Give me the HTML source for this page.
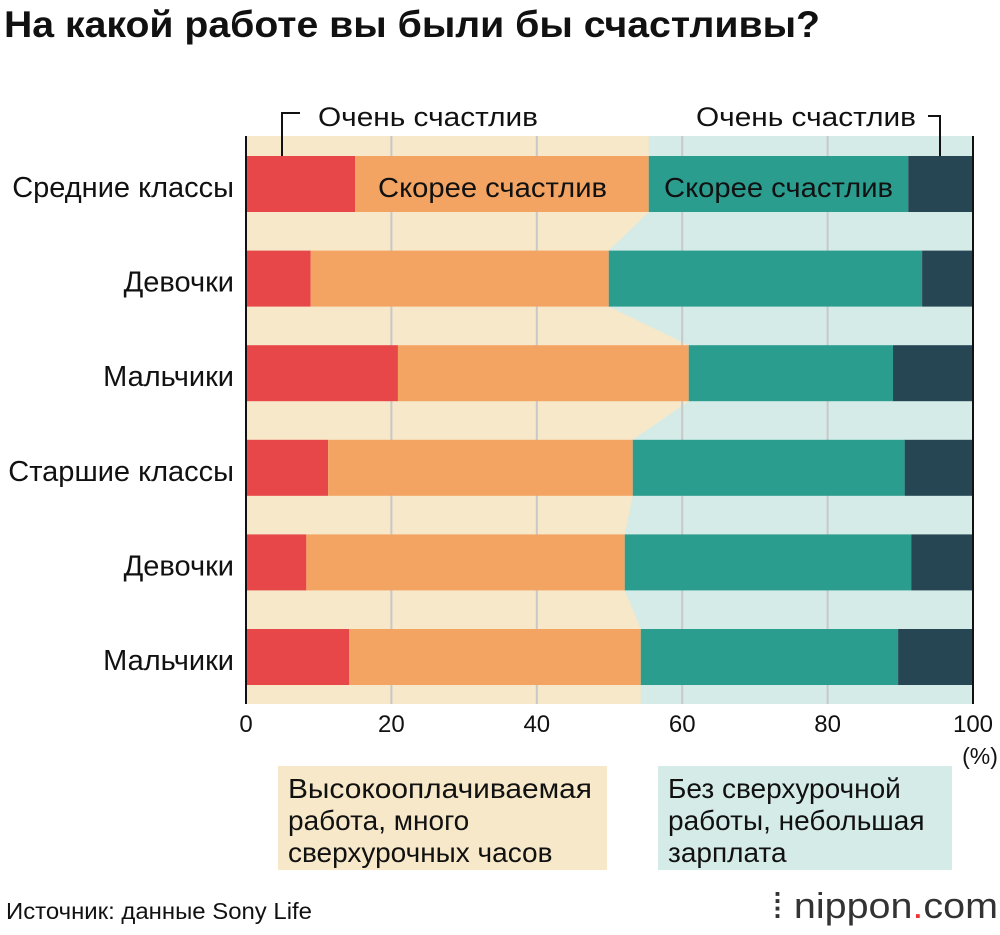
<!DOCTYPE html>
<html><head><meta charset="utf-8"><style>
body{margin:0;background:#fff;width:1000px;height:930px;overflow:hidden;font-family:"Liberation Sans","DejaVu Sans",sans-serif}
svg text{font-family:"Liberation Sans","DejaVu Sans",sans-serif}
</style></head><body>
<svg id="chart" width="1000" height="930">
<text x="4" y="37" font-size="37" font-weight="bold" fill="#111" textLength="816" lengthAdjust="spacingAndGlyphs">На какой работе вы были бы счастливы?</text>
<g id="bg"></g><g id="grid"></g><g id="bars"></g><g id="labels"></g>
<line x1="246" y1="136" x2="246" y2="704" stroke="#111" stroke-width="2"/>
<line x1="973" y1="136" x2="973" y2="704" stroke="#111" stroke-width="2"/>
<path d="M282 156 V113 H300" fill="none" stroke="#111" stroke-width="2"/>
<text x="318" y="126" font-size="27" fill="#111" textLength="220" lengthAdjust="spacingAndGlyphs">Очень счастлив</text>
<path d="M928 116 H940 V156" fill="none" stroke="#111" stroke-width="2"/>
<text x="696" y="126" font-size="27" fill="#111" textLength="220" lengthAdjust="spacingAndGlyphs">Очень счастлив</text>
<text x="378" y="197" font-size="28" fill="#111" textLength="229" lengthAdjust="spacingAndGlyphs">Скорее счастлив</text>
<text x="664" y="197" font-size="28" fill="#111" textLength="229" lengthAdjust="spacingAndGlyphs">Скорее счастлив</text>
<text x="980" y="764" font-size="23" fill="#111" text-anchor="middle">(%)</text>
<rect x="278" y="766" width="329" height="104" fill="#f6e8c9"/>
<text font-size="28" fill="#111"><tspan x="288" y="798" textLength="304" lengthAdjust="spacingAndGlyphs">Высокооплачиваемая</tspan><tspan x="288" y="830">работа, много</tspan><tspan x="288" y="862">сверхурочных часов</tspan></text>
<rect x="658" y="766" width="294" height="104" fill="#d5ebe7"/>
<text font-size="28" fill="#111"><tspan x="668" y="798">Без сверхурочной</tspan><tspan x="668" y="830">работы, небольшая</tspan><tspan x="668" y="862">зарплата</tspan></text>
<text x="6" y="919" font-size="23" fill="#111" textLength="306" lengthAdjust="spacingAndGlyphs">Источник: данные Sony Life</text>
<text x="772" y="918" font-size="36" fill="#333" textLength="226" lengthAdjust="spacingAndGlyphs">⁞ nippon<tspan fill="#e33">.</tspan>com</text>
</svg>
<script>
const categories=["Средние классы","Девочки","Мальчики","Старшие классы","Девочки","Мальчики"];
const veryHappyL=[15.0,8.9,20.9,11.3,8.3,14.2];
const ratherHappyL=[40.4,41.0,40.0,41.9,43.8,40.1];
const ratherHappyR=[35.7,43.1,28.1,37.4,39.4,35.4];
const veryHappyR=[8.9,7.0,11.0,9.4,8.5,10.3];
const ticks=[0,20,40,60,80,100];
const NS="http://www.w3.org/2000/svg";
const x0=246,x1=973,yTop=136,yBot=704,rowY0=156,rowStep=94.6,bh=56;
const X=v=>x0+(x1-x0)*v/100;
const Y=i=>rowY0+i*rowStep;
function mk(t,a,p){const e=document.createElementNS(NS,t);for(const k in a)e.setAttribute(k,a[k]);document.getElementById(p).appendChild(e);return e;}
const bnd=categories.map((c,i)=>X(veryHappyL[i]+ratherHappyL[i]));
let pts=[[bnd[0],yTop]];
categories.forEach((c,i)=>{pts.push([bnd[i],Y(i)]);pts.push([bnd[i],Y(i)+bh]);});
pts.push([bnd[bnd.length-1],yBot]);
let r=mk('rect',{x:x0,y:yTop,width:x1-x0,height:yBot-yTop,fill:'#d5ebe7'},'bg');


let poly=mk('polygon',{points:[[x0,yTop],...pts,[x0,yBot]].map(p=>p.join(',')).join(' '),fill:'#f6e8c9'},'bg');


ticks.forEach(t=>{
 if(t>0&&t<100){let l=mk('line',{x1:X(t),x2:X(t),y1:yTop,y2:yBot,stroke:'#c8c8c8','stroke-width':2},'grid');
 
 }
 let tx=mk('text',{x:X(t),y:732,'font-size':24,'text-anchor':'middle',fill:'#111'},'labels');
 tx.textContent=t;
 
 
});
const series=[veryHappyL,ratherHappyL,ratherHappyR,veryHappyR];
const cols=['#e8474a','#f3a463','#2a9d8f','#264653'];
const names=['very-happy-left','rather-happy-left','rather-happy-right','very-happy-right'];
categories.forEach((c,i)=>{
 let acc=0;
 series.forEach((s,j)=>{
  let b=mk('rect',{x:X(acc),y:Y(i),width:X(acc+s[i])-X(acc),height:bh,fill:cols[j]},'bars');
  
  
  acc+=s[i];
 });
 let t=mk('text',{x:234,y:Y(i)+bh/2+13,'font-size':29,'text-anchor':'end',fill:'#111'},'labels');
 t.textContent=c;
 
 
});
</script>
</body></html>
